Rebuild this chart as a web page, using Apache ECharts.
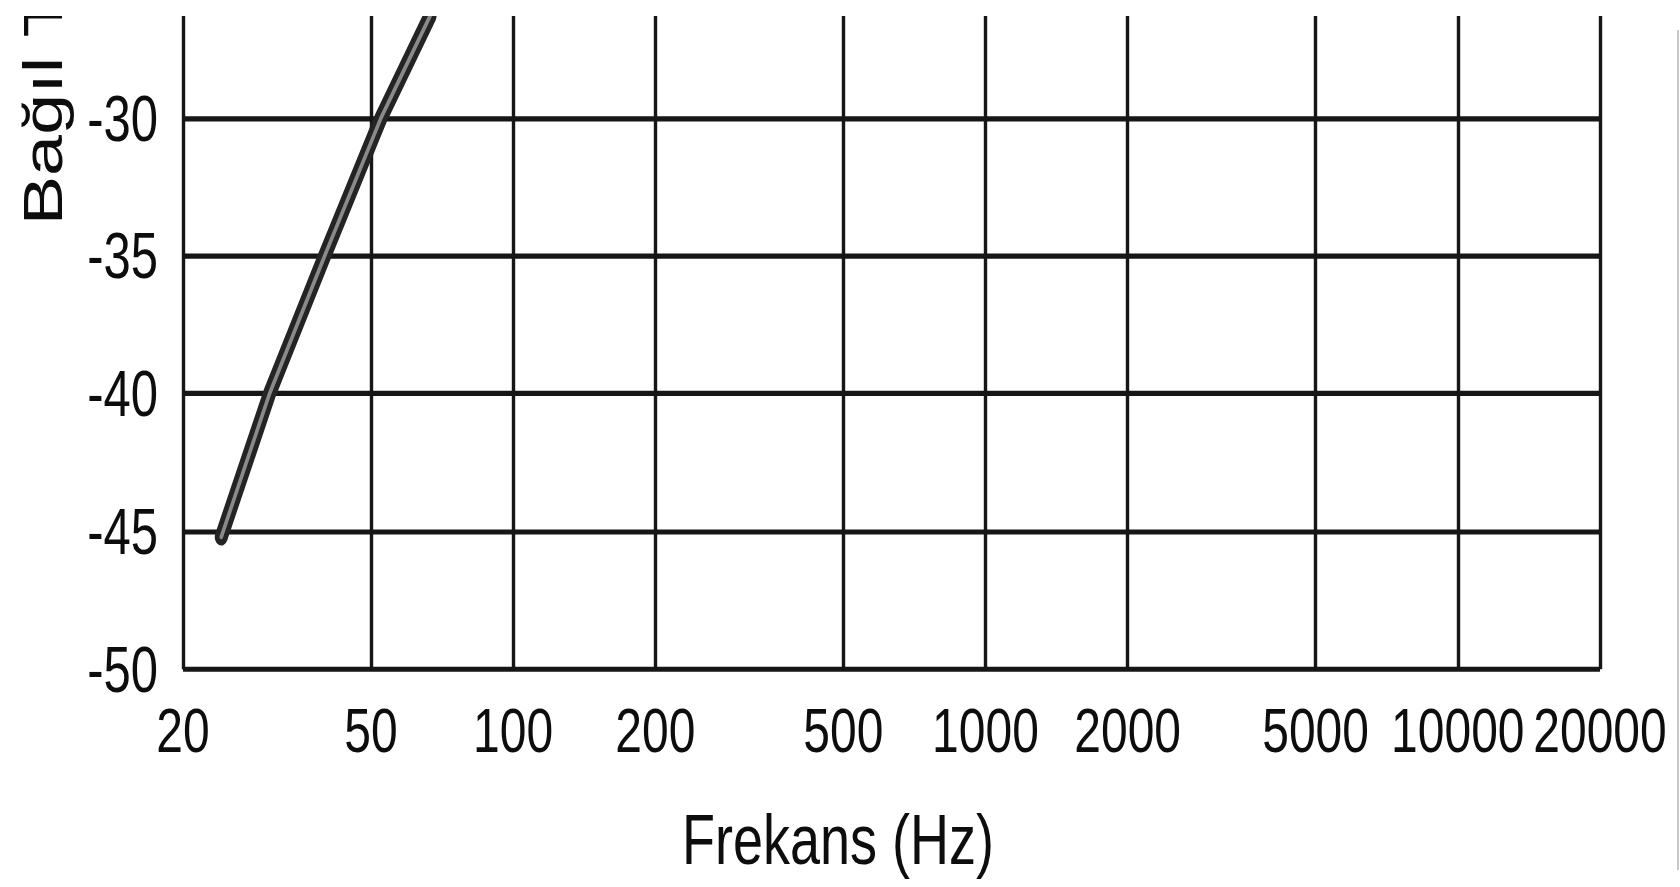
<!DOCTYPE html>
<html>
<head>
<meta charset="utf-8">
<script src="https://cdn.jsdelivr.net/npm/echarts@6/dist/echarts.min.js"></script>
<style>
  html, body { margin: 0; padding: 0; background: #ffffff; width: 1680px; height: 887px; overflow: hidden; position: relative; }
  /* the scanned original is stretched vertically; reproduce that with a vertical scale */
  #chart { position: absolute; left: 0; top: 16px; width: 1680px; height: 660px; transform: scaleY(1.3197); transform-origin: 0 0; }
  #edge { position: absolute; left: 1677px; top: 30px; width: 2px; height: 840px; background: #c8c8c8; }
</style>
</head>
<body>
<div id="chart"></div>
<div id="edge"></div>
<script>
// Tick values
const freqTicks = [20, 50, 100, 200, 500, 1000, 2000, 5000, 10000, 20000];
const dbTicks = [-50, -45, -40, -35, -30];
// Series values
const freqHz = [24.1, 30.5, 39.9, 52.5, 66.7];
const responseDb = [-45.2, -40, -35, -30, -26.3];
// Axis texts
const xTitle = 'Frekans (Hz)';
const yTitle = 'Bağıl Tepki (dB)';

const points = freqHz.map((f, i) => [f, responseDb[i]]);
const font = "'Liberation Sans', Arial, sans-serif";

const chart = echarts.init(document.getElementById('chart'), null, { renderer: 'svg' });
chart.setOption({
  backgroundColor: '#ffffff',
  animation: false,
  grid: { left: 183, right: 80, top: 0, bottom: 165, containLabel: false, outerBoundsMode: 'none' },
  xAxis: {
    type: 'log',
    logBase: 10,
    min: 20,
    max: 20000.001,
    axisLine: { show: false },
    axisTick: { show: false, customValues: freqTicks },
    axisLabel: {
      customValues: freqTicks,
      formatter: v => String(Math.round(v)),
      fontFamily: font,
      fontSize: 48,
      color: '#0d0d0d',
      margin: 22
    },
    splitLine: { show: true, lineStyle: { color: '#161616', width: 3.4 } },
    minorSplitLine: { show: false },
    name: xTitle,
    nameLocation: 'middle',
    nameGap: 102,
    nameMoveOverlap: false,
    nameTextStyle: { fontFamily: font, fontSize: 54, color: '#0d0d0d', padding: [0, 107, 0, 0] }
  },
  yAxis: {
    type: 'value',
    min: -50,
    max: -26.3,
    axisLine: { show: false },
    axisTick: { show: false, customValues: dbTicks },
    axisLabel: {
      customValues: dbTicks,
      fontFamily: font,
      fontSize: 49,
      color: '#0d0d0d',
      margin: 25,
      padding: [0, 0, 8, 0]
    },
    splitLine: { show: true, lineStyle: { color: '#161616', width: 3.9 } },
    name: yTitle,
    nameLocation: 'middle',
    nameRotate: 90,
    nameGap: 112,
    nameMoveOverlap: false,
    nameTextStyle: { fontFamily: font, fontSize: 56, color: '#0d0d0d', align: 'left', padding: [0, 0, 0, 89] }
  },
  series: [
    {
      type: 'line',
      data: points,
      showSymbol: false,
      smooth: false,
      lineStyle: { color: '#242424', width: 13, cap: 'round', join: 'round' },
      z: 3
    },
    {
      type: 'line',
      data: points,
      showSymbol: false,
      smooth: false,
      lineStyle: { color: '#8a8a8a', width: 3.5, cap: 'round', join: 'round' },
      z: 4
    }
  ]
});
</script>
</body>
</html>
